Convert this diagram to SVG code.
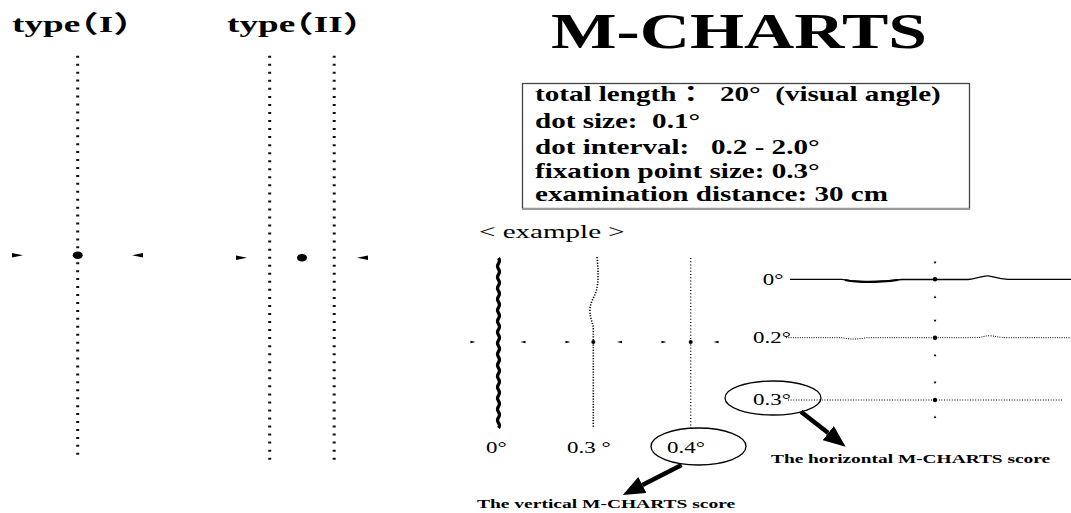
<svg xmlns="http://www.w3.org/2000/svg" width="1071" height="513" viewBox="0 0 1071 513">
<style>
.b{font-family:"Liberation Serif","Noto Sans CJK JP",serif;font-weight:bold;fill:#000}
.r{font-family:"Liberation Serif","Noto Sans CJK JP",serif;fill:#000}
.hw{font-feature-settings:"halt" 1}
.dotcol{stroke:#111;stroke-width:3;fill:none}
.thin{stroke:#000;fill:none}
.conn{stroke:#000;stroke-width:4.5;fill:none;marker-end:url(#ah)}
</style>
<defs>
<marker id="ah" markerUnits="userSpaceOnUse" markerWidth="22" markerHeight="18" refX="0" refY="9" orient="auto"><path d="M0,0 L22,9 L0,18 z" fill="#000"/></marker>
</defs>
<rect width="1071" height="513" fill="#fff"/>

<g id="typeI">
<text class="b hw" font-size="24" transform="translate(12,32) scale(1.55,1)">type（I）</text>
<line class="dotcol" x1="77.7" y1="55.8" x2="77.7" y2="456" stroke-dasharray="2 5.94"/>
<ellipse cx="77.7" cy="255.3" rx="5" ry="3.8"/>
<polygon points="12,253 23,255.3 12,257.6"/>
<polygon points="143,253 132,255.3 143,257.6"/>
</g>

<g id="typeII">
<text class="b hw" font-size="24" transform="translate(227,32) scale(1.55,1)">type（II）</text>
<line class="dotcol" x1="269.7" y1="55.7" x2="269.7" y2="460" stroke-dasharray="2 6.04"/>
<line class="dotcol" x1="334.2" y1="55.7" x2="334.2" y2="460" stroke-dasharray="2 6.04"/>
<ellipse cx="302" cy="257.7" rx="5" ry="3.8"/>
<polygon points="236,255.4 247,257.7 236,260"/>
<polygon points="368,255.4 357,257.7 368,260"/>
</g>

<g id="title">
<text class="b" font-size="50" transform="translate(551,48) scale(1.39,1)">M-CHARTS</text>
</g>

<g id="spec-box">
<rect x="522.5" y="83.5" width="447" height="125" fill="#fff" stroke="#444" stroke-width="1.3"/>
<line x1="522" y1="209" x2="970" y2="209" stroke="#999" stroke-width="2.2"/>
<g transform="translate(535,0) scale(1.385,1)" class="b" font-size="21">
<text x="0" y="101.5" xml:space="preserve">total length：  20°  (visual angle)</text>
<text x="0" y="128" xml:space="preserve">dot size:  0.1°</text>
<text x="0" y="154.5" xml:space="preserve">dot interval:   0.2 - 2.0°</text>
<text x="0" y="178" xml:space="preserve">fixation point size: 0.3°</text>
<text x="0" y="201.5" xml:space="preserve">examination distance: 30 cm</text>
</g>
</g>

<g id="example-vertical">
<text class="r" font-size="19" transform="translate(479,238) scale(1.53,1)">&lt; example &gt;</text>
<path class="thin" stroke-width="3.2" d="M498.5,258 q2,2.75 0,5.5 t0,5.5 t0,5.5 t0,5.5 t0,5.5 t0,5.5 t0,5.5 t0,5.5 t0,5.5 t0,5.5 t0,5.5 t0,5.5 t0,5.5 t0,5.5 t0,5.5 t0,5.5 t0,5.5 t0,5.5 t0,5.5 t0,5.5 t0,5.5 t0,5.5 t0,5.5 t0,5.5 t0,5.5 t0,5.5 t0,5.5 t0,5.5 t0,5.5 t0,5.5 t0,5"/>
<path class="thin" stroke-width="1.6" stroke-dasharray="1.2 1.5" d="M597,257 C598.5,270 598.5,282 596.5,290 C594.5,298 590,302 590,310 C590,320 593.3,322 593.3,330 L593.3,428"/>
<line class="thin" x1="690.7" y1="258" x2="690.7" y2="428" stroke-width="1.3" stroke-dasharray="1 2.2"/>
<circle cx="593.3" cy="342" r="2"/>
<circle cx="690.7" cy="342" r="2"/>
<polygon points="470.5,340.8 475.5,342 470.5,343.2"/>
<polygon points="525.5,340.8 520.5,342 525.5,343.2"/>
<polygon points="565.5,340.8 570.5,342 565.5,343.2"/>
<polygon points="622,340.8 617,342 622,343.2"/>
<polygon points="661.5,340.8 666.5,342 661.5,343.2"/>
<polygon points="718.5,340.8 713.5,342 718.5,343.2"/>
<text class="r" font-size="17" transform="translate(486,453) scale(1.35,1)">0°</text>
<text class="r" font-size="17" transform="translate(567,453) scale(1.35,1)" xml:space="preserve">0.3 °</text>
</g>

<g id="example-horizontal">
<g fill="#000">
<polygon points="933.6,261.6 936.4,261.6 935,264"/>
<circle cx="935" cy="279.3" r="2.2"/>
<polygon points="933.6,298 936.4,298 935,295.6"/>
<polygon points="933.6,319.8 936.4,319.8 935,322.2"/>
<circle cx="935" cy="337.7" r="2.2"/>
<polygon points="933.6,356.2 936.4,356.2 935,353.8"/>
<polygon points="933.6,381.5 936.4,381.5 935,383.9"/>
<circle cx="935" cy="400" r="2.2"/>
<polygon points="933.6,418 936.4,418 935,415.6"/>
</g>
<text class="r" font-size="17" transform="translate(762.7,285) scale(1.35,1)">0°</text>
<path class="thin" stroke-width="1.3" d="M790,279.3 H842 C852,281.5 875,282.5 902,279.5 H968 C976,279.3 982,275.5 988,275.8 C994,276.2 997,279.3 1008,279.3 H1071"/>
<path class="thin" stroke-width="2" d="M845,280 C858,282.6 878,282.5 898,280"/>
<text class="r" font-size="17" transform="translate(753,343) scale(1.35,1)">0.2°</text>
<path class="thin" stroke-width="1" stroke-dasharray="1 1.3" d="M786,337.7 H842 C850,339.5 858,339.5 866,337.7 H975 C982,337.7 985,335.5 990,335.8 C996,336 998,337.7 1008,337.7 H1071"/>
<line class="thin" x1="788" y1="400" x2="1062" y2="400" stroke-width="1" stroke-dasharray="1 1.6"/>
</g>

<g id="node-h03">
<ellipse cx="773" cy="398" rx="48" ry="17" fill="none" stroke="#000" stroke-width="1.3"/>
<text class="r" font-size="17" transform="translate(753,405) scale(1.35,1)">0.3°</text>
</g>

<g id="node-v04">
<ellipse cx="698.5" cy="446.5" rx="47.5" ry="18.5" fill="none" stroke="#000" stroke-width="1.3"/>
<text class="r" font-size="17" transform="translate(667,453) scale(1.35,1)">0.4°</text>
</g>

<g id="label-horizontal">
<text class="b" font-size="13" transform="translate(771,463) scale(1.49,1)">The horizontal M-CHARTS score</text>
</g>

<g id="label-vertical">
<text class="b" font-size="13" transform="translate(477,508) scale(1.5,1)">The vertical M-CHARTS score</text>
</g>

<g id="connectors">
<line class="conn" x1="801" y1="411.7" x2="828.3" y2="433.1"/>
<line class="conn" x1="681.6" y1="465" x2="642.4" y2="485"/>
</g>
</svg>
